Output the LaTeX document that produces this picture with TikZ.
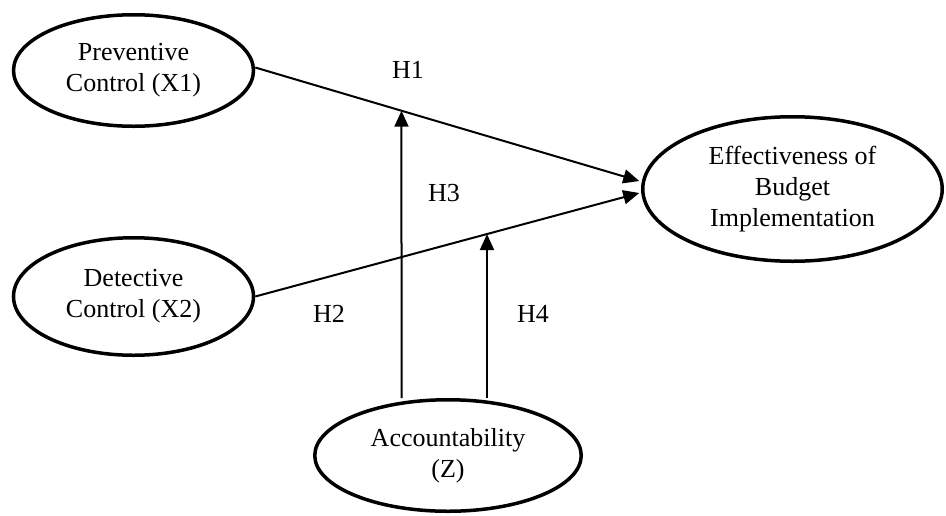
\documentclass[tikz,border=0pt]{standalone}
\usepackage{fontspec}
\setmainfont{Liberation Serif}
\usetikzlibrary{shapes.geometric,arrows.meta,calc}
\begin{document}
\begin{tikzpicture}[x=1pt,y=-1pt,
  latent/.style={ellipse,draw,line width=3.5pt,inner sep=0pt,align=center,font=\fontsize{26}{31}\selectfont},
  hlab/.style={font=\fontsize{26}{31}\selectfont,inner sep=0pt},
  conn/.style={line width=2pt,-{Triangle[length=16pt,width=14pt]}}]
\useasboundingbox (0,0) rectangle (946,515);
\node[latent,minimum width=240pt,minimum height=111.5pt] (X1) at (133.5,70.5) {Preventive\\Control (X1)};
\node[latent,minimum width=240pt,minimum height=117.5pt] (X2) at (133.5,296.5) {Detective\\Control (X2)};
\node[latent,minimum width=299.5pt,minimum height=144.5pt] (E) at (792.5,189) {Effectiveness of\\Budget\\Implementation};
\node[latent,minimum width=266.5pt,minimum height=111.5pt] (Z) at (448,455.5) {Accountability\\(Z)};
\node[hlab] (h1) at (408,70) {H1};
\node[hlab] (h3) at (444,193) {H3};
\node[hlab] (h2) at (329,314) {H2};
\node[hlab] (h4) at (533,314) {H4};
\coordinate (s1) at ($(X1.east)+(0,-3)$);
\coordinate (t1) at ($(E.west)+(-1.75,-8)$);
\coordinate (t2) at ($(E.west)+(-1.75,4)$);
\draw[conn] (s1) -- (t1);
\draw[conn] (X2.east) -- (t2);
\coordinate (a3) at (401.5,0);
\coordinate (a4) at (487,0);
\coordinate (b3) at (Z.north -| a3);
\coordinate (b4) at (Z.north -| a4);
\draw[conn] (b3) -- (intersection of s1--t1 and a3--b3);
\draw[conn] (b4) -- (intersection of X2.east--t2 and a4--b4);
\end{tikzpicture}
\end{document}
